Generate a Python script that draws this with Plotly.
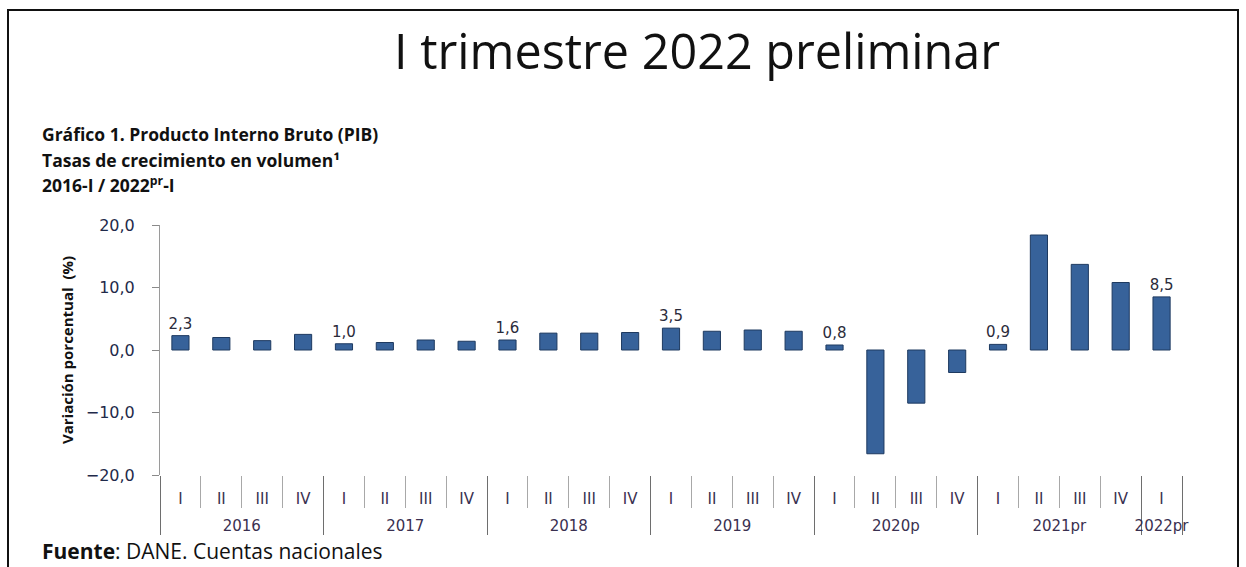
import plotly.graph_objects as go

# ---- data ----
years = ["2016", "2017", "2018", "2019", "2020p", "2021pr", "2022pr"]
quarters_per_year = [["I", "II", "III", "IV"]] * 6 + [["I"]]
values = [2.3, 2.0, 1.5, 2.5,
          1.0, 1.2, 1.6, 1.4,
          1.6, 2.7, 2.7, 2.8,
          3.5, 3.0, 3.2, 3.0,
          0.8, -16.6, -8.5, -3.6,
          0.9, 18.4, 13.7, 10.8,
          8.5]
labelled = [1, 0, 0, 0,
            1, 0, 0, 0,
            1, 0, 0, 0,
            1, 0, 0, 0,
            1, 0, 0, 0,
            1, 0, 0, 0,
            1]
y_ticks = [-20, -10, 0, 10, 20]

# year labels pushed one line lower with a leading line break
year_level = ["<br>" + y for y, qs in zip(years, quarters_per_year) for _ in qs]
quarter_level = [q for qs in quarters_per_year for q in qs]
texts = [f"{v:.1f}".replace(".", ",") if s else "" for v, s in zip(values, labelled)]

W, H = 1246, 567
L, R, T, B = 160, 1182, 225, 475


def px(xp):
    return (xp - L) / (R - L)


def py(yp):
    return (B - yp) / (B - T)


fig = go.Figure()
fig.add_trace(go.Bar(
    x=[year_level, quarter_level], y=values,
    marker=dict(color="#37629A", line=dict(color="#1E3A60", width=1)),
    text=texts, textposition="outside", cliponaxis=False, constraintext="none",
    textfont=dict(family="DejaVu Sans", size=15, color="#2B2B3A"),
    hoverinfo="skip",
))

fig.update_layout(
    width=W, height=H,
    margin=dict(l=L, r=W - R, t=T, b=H - B, pad=0),
    paper_bgcolor="white", plot_bgcolor="white",
    showlegend=False, bargap=0.58,
    separators=",.",
    xaxis=dict(
        type="multicategory", showline=False, showgrid=False, zeroline=False,
        ticks="outside", ticklen=32, tickcolor="#A8A8A8", tickwidth=1,
        tickson="boundaries",
        showdividers=True, dividercolor="#6E6E6E", dividerwidth=1,
        tickfont=dict(family="DejaVu Sans", size=15, color="#3A3050"),
        ticklabelstandoff=13,
    ),
    xaxis2=dict(
        overlaying="x", anchor="free", position=py(350),
        range=[-0.5, len(values) - 0.5], tick0=-0.5, dtick=1,
        showline=True, linecolor="#8A8A8A", linewidth=1,
        ticks="outside", ticklen=5, tickcolor="#8A8A8A",
        showticklabels=False, showgrid=False, zeroline=False,
    ),
    yaxis=dict(
        range=[-20, 20], tickvals=y_ticks, tickformat=".1f",
        showline=True, linecolor="#9A9A9A", linewidth=1,
        ticks="outside", ticklen=7, tickcolor="#8A8A8A",
        showgrid=False, zeroline=False, ticklabelstandoff=14,
        tickfont=dict(family="DejaVu Sans", size=16, color="#1F2A4A"),
        title=dict(text="<b>Variación porcentual  (%)</b>",
                   font=dict(family="Open Sans", size=15, color="#111"),
                   standoff=8),
    ),
)

# title and subtitles
fig.add_annotation(text="I trimestre 2022 preliminar", xref="paper", yref="paper",
                   x=px(697), y=py(50), showarrow=False, xanchor="center", yanchor="middle",
                   font=dict(family="Open Sans", size=48.5, color="#111"))
sub = [("<b>Gráfico 1. Producto Interno Bruto (PIB)</b>", 134),
       ("<b>Tasas de crecimiento en volumen¹</b>", 160),
       ("<b>2016-I / 2022<sup>pr</sup>-I</b>", 184)]
for t, yy in sub:
    fig.add_annotation(text=t, xref="paper", yref="paper", x=px(40), y=py(yy),
                       showarrow=False, xanchor="left", yanchor="middle",
                       font=dict(family="Open Sans", size=17.5, color="#111"))
fig.add_annotation(text="<b>Fuente</b>: DANE. Cuentas nacionales", xref="paper", yref="paper",
                   x=px(40), y=py(551), showarrow=False, xanchor="left", yanchor="middle",
                   font=dict(family="Open Sans", size=21, color="#111"))

# outer frame
fig.add_shape(type="rect", xref="paper", yref="paper",
              x0=px(8), x1=px(1238), y0=py(600), y1=py(10),
              line=dict(color="#111", width=2), fillcolor="rgba(0,0,0,0)", layer="below")

fig.write_html("out.html")
